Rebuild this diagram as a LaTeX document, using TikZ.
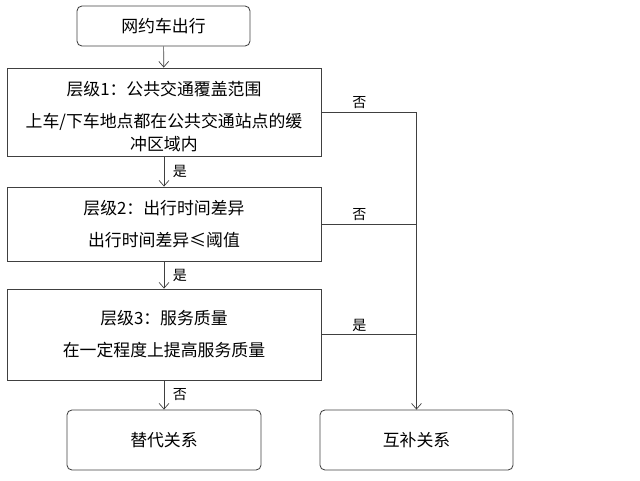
\documentclass[tikz,border=0pt]{standalone}
\usepackage{fontspec}
\setmainfont{Noto Sans CJK SC}
\usetikzlibrary{arrows.meta}
\begin{document}
\begin{tikzpicture}[x=0.025cm,y=-0.025cm,
    box/.style={draw=black!75, line width=0.6pt, align=center, inner sep=0pt,
      font=\fontsize{12}{16.4}\selectfont},
    rbox/.style={box, rounded corners=3.5pt},
    flow/.style={draw=black!75, line width=0.5pt, -{Straight Barb[length=4pt,width=7pt]}},
    link/.style={draw=black!75, line width=0.5pt},
    lbl/.style={font=\fontsize{10}{12}\selectfont, inner sep=2pt}]
  \useasboundingbox (0,0) rectangle (640,481);
  % boxes
  \node[rbox, minimum width=4.325cm, minimum height=1.0cm] (start) at (163.5,26) {网约车出行};
  \node[box, minimum width=7.85cm, minimum height=2.2cm] (lvl1) at (164,112)
    {\rule{0pt}{17pt}层级1：公共交通覆盖范围\\[6.3pt]上车/下车地点都在公共交通站点的缓\\冲区域内};
  \node[box, minimum width=7.85cm, minimum height=1.85cm] (lvl2) at (164,224)
    {层级2：出行时间差异\\[6.3pt]出行时间差异≤阈值};
  \node[box, minimum width=7.85cm, minimum height=2.275cm] (lvl3) at (164,334.5)
    {层级3：服务质量\\[6.3pt]在一定程度上提高服务质量};
  \node[rbox, minimum width=4.85cm, minimum height=1.5cm] (subst) at (164,440) {替代关系};
  \node[rbox, minimum width=4.825cm, minimum height=1.5cm] (compl) at (416.5,440) {互补关系};
  % left column
  \draw[flow] (start) -- (lvl1);
  \draw[flow] (lvl1) -- node[lbl, right, xshift=4pt] {是} (lvl2);
  \draw[flow] (lvl2) -- node[lbl, right, xshift=4pt] {是} (lvl3);
  \draw[flow] (lvl3.south -| subst.north) -- node[lbl, right, xshift=4pt] {否} (subst);
  % right column
  \draw[flow] (lvl1.east) -- node[lbl, above, pos=0.4] {否} (lvl1.east -| compl.north) -- (compl.north);
  \draw[link] (lvl2.east) -- node[lbl, above, pos=0.4] {否} (lvl2.east -| compl.north);
  \draw[link] (lvl3.east) -- node[lbl, above, pos=0.4] {是} (lvl3.east -| compl.north);
\end{tikzpicture}
\end{document}
